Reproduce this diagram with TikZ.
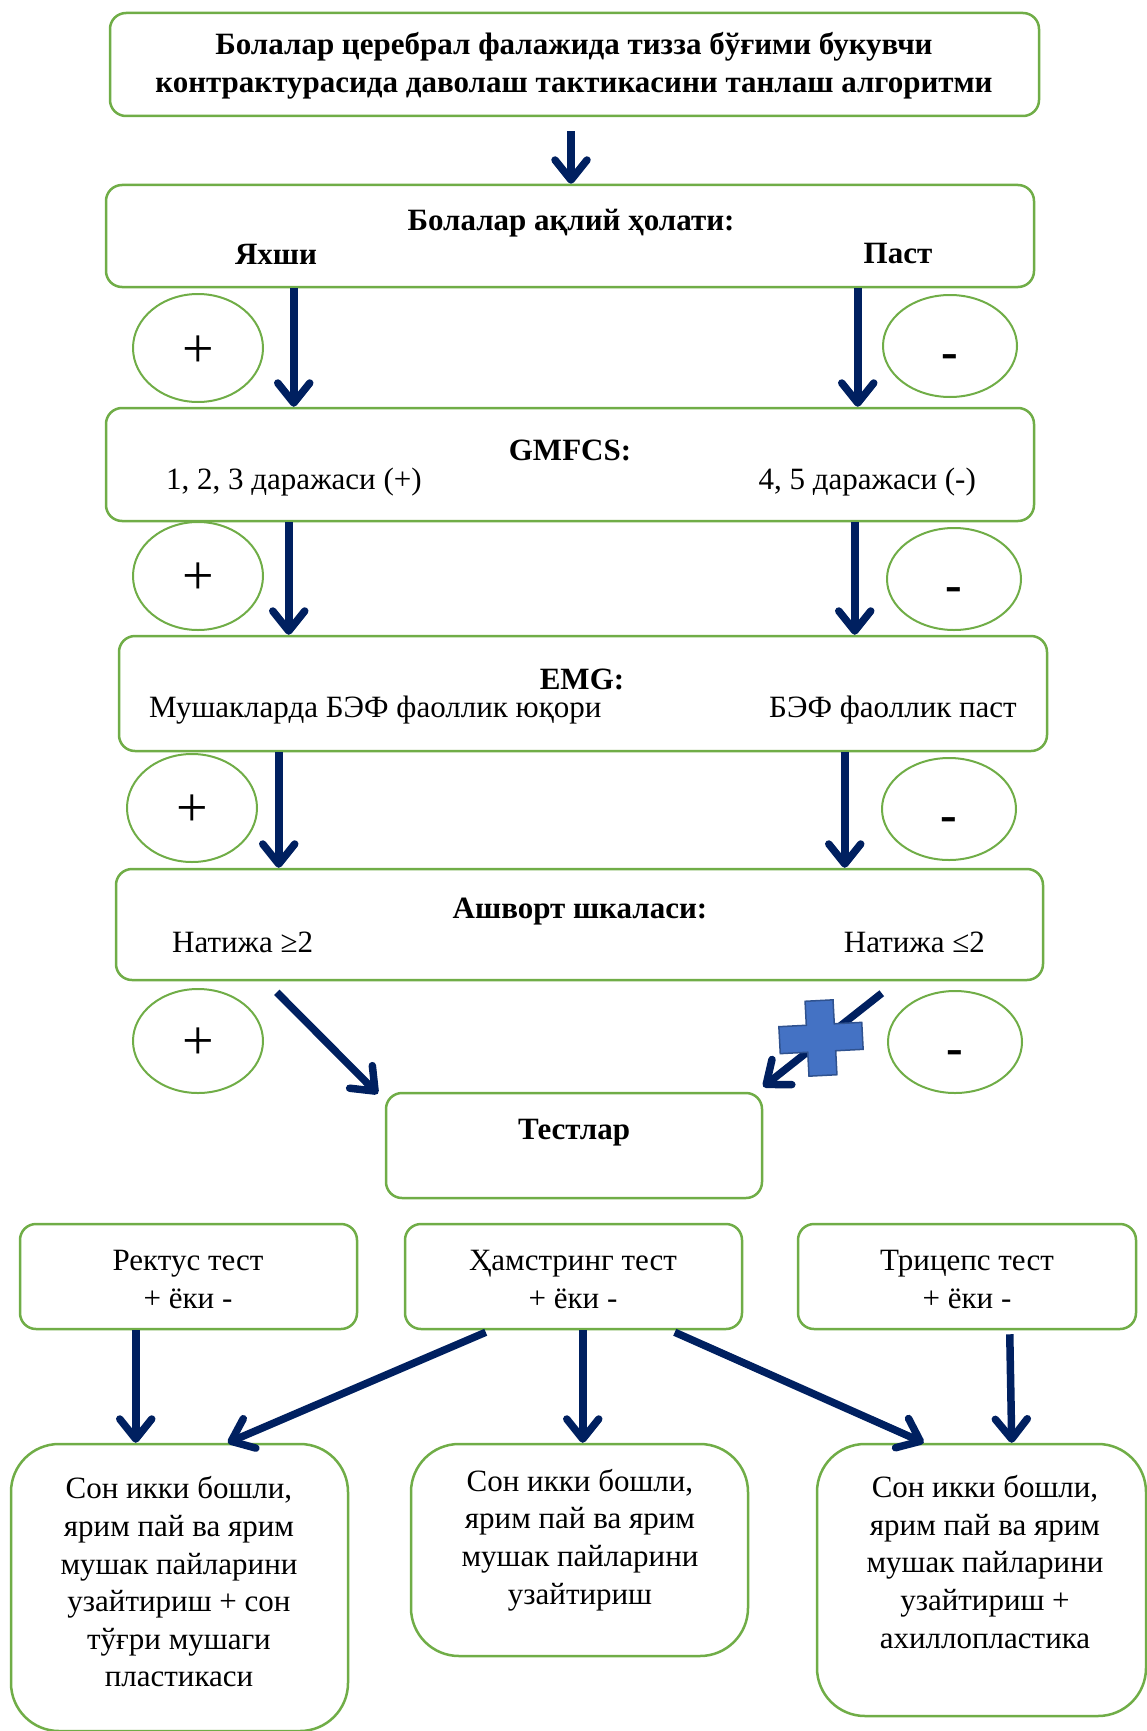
\documentclass[tikz,border=0pt]{standalone}
\usepackage{fontspec}
\setmainfont{Liberation Serif}
\usetikzlibrary{arrows.meta,shapes.geometric}
\definecolor{grn}{HTML}{70AD47}
\definecolor{navy}{HTML}{002060}
\definecolor{crossblue}{HTML}{4472C4}
\definecolor{crossedge}{HTML}{2F528F}
\begin{document}
\begin{tikzpicture}[x=1pt,y=-1pt,
 box/.style={draw=grn,line width=2.5pt,rounded corners=16pt,fill=white,inner sep=0pt},
 bigbox/.style={box,rounded corners=48pt},
 oval/.style={draw=grn,line width=2pt,ellipse,inner sep=0pt,minimum width=130pt,minimum height=106pt},
 arr/.style={draw=navy,line width=7.5pt,-{Straight Barb[length=20pt,width=32pt,round]}},
 bt/.style={inner sep=0pt,font=\fontsize{31}{38}\selectfont\bfseries},
 nt/.style={inner sep=0pt,font=\fontsize{31}{37.6}\selectfont},
 pl/.style={inner sep=0pt,font=\fontsize{56}{56}\selectfont},
 mn/.style={inner sep=0pt,anchor=north,font=\fontsize{50}{50}\selectfont\bfseries},
 ]
\useasboundingbox (0,0) rectangle (1147,1731);

% main boxes
\node[box,minimum width=929pt,minimum height=103pt] (b1) at (574.5,64.5) {};
\node[box,minimum width=928pt,minimum height=102pt] (b2) at (570,236) {};
\node[box,minimum width=928pt,minimum height=113pt] (b3) at (570,464.5) {};
\node[box,minimum width=928pt,minimum height=115pt] (b4) at (583,693.5) {};
\node[box,minimum width=927pt,minimum height=111pt] (b5) at (579.5,924.5) {};
\node[box,minimum width=376pt,minimum height=105pt] (b6) at (574,1145.5) {};
\node[box,minimum width=337pt,minimum height=105pt] (r1) at (188.5,1276.5) {};
\node[box,minimum width=337pt,minimum height=105pt] (r2) at (573.5,1276.5) {};
\node[box,minimum width=338pt,minimum height=105pt] (r3) at (967,1276.5) {};
\node[bigbox,minimum width=337pt,minimum height=287pt] (c1) at (179.5,1587.5) {};
\node[bigbox,minimum width=337pt,minimum height=212pt] (c2) at (579.5,1550) {};
\node[bigbox,minimum width=329pt,minimum height=272pt] (c3) at (981.5,1580) {};

% texts
\node[bt,align=center] (t1) at (574,66) {Болалар церебрал фалажида тизза бўғими букувчи\\контрактурасида даволаш тактикасини танлаш алгоритми};
\node[bt] (t2) at (571,223) {Болалар ақлий ҳолати:};
\node[bt] (t2l) at (276,254) {Яхши};
\node[bt] (t2r) at (898,254) {Паст};
\node[bt] (t3) at (570,450) {GMFCS:};
\node[nt,anchor=west] (t3l) at (166,482) {1, 2, 3 даражаси (+)};
\node[nt,anchor=east] (t3r) at (976,482) {4, 5 даражаси (-)};
\node[bt] (t4) at (582,679) {EMG:};
\node[nt,anchor=west] (t4l) at (149,710) {Мушакларда БЭФ фаоллик юқори};
\node[nt,anchor=east] (t4r) at (1017,710) {БЭФ фаоллик паст};
\node[bt] (t5) at (580,912) {Ашворт шкаласи:};
\node[nt,anchor=west] (t5l) at (172,942) {Натижа ≥2};
\node[nt,anchor=east] (t5r) at (985,942) {Натижа ≤2};
\node[bt] (t6) at (574,1133) {Тестлар};
\node[nt,align=center] (tr1) at (188,1279.5) {Ректус тест\\+ ёки -};
\node[nt,align=center] (tr2) at (573,1279.5) {Ҳамстринг тест\\+ ёки -};
\node[nt,align=center] (tr3) at (967,1279.5) {Трицепс тест\\+ ёки -};
\node[nt,align=center] (tc1) at (179,1582) {Сон икки бошли,\\ярим пай ва ярим\\мушак пайларини\\узайтириш + сон\\тўғри мушаги\\пластикаси};
\node[nt,align=center] (tc2) at (580,1540) {Сон икки бошли,\\ярим пай ва ярим\\мушак пайларини\\узайтириш};
\node[nt,align=center] (tc3) at (985,1562) {Сон икки бошли,\\ярим пай ва ярим\\мушак пайларини\\узайтириш +\\ахиллопластика};

% ovals with signs
\node[oval,minimum height=108pt] (e2l) at (198,348) {};
\node[pl] (p2l) at ([yshift=-4pt]e2l.center) {+};
\node[oval,minimum width=134pt,minimum height=102pt] (e2r) at (950,346) {};
\node[mn] (m2r) at ([yshift=-8.5pt]e2r.center) {-};
\node[oval,minimum height=108pt] (e3l) at (198,576) {};
\node[pl] (p3l) at ([yshift=-3pt]e3l.center) {+};
\node[oval,minimum width=134pt,minimum height=102pt] (e3r) at (954,579) {};
\node[mn] (m3r) at ([yshift=-8.5pt]e3r.center) {-};
\node[oval,minimum height=108pt] (e4l) at (192,808) {};
\node[pl] (p4l) at ([yshift=-3pt]e4l.center) {+};
\node[oval,minimum width=134pt,minimum height=102pt] (e4r) at (949,809) {};
\node[mn] (m4r) at ([yshift=-8.5pt]e4r.center) {-};
\node[oval,minimum height=104pt] (e5l) at (198,1041) {};
\node[pl] (p5l) at ([yshift=-3pt]e5l.center) {+};
\node[oval,minimum width=134pt,minimum height=102pt] (e5r) at (955,1042) {};
\node[mn] (m5r) at ([yshift=-8.5pt]e5r.center) {-};

% arrows
\draw[arr] ([xshift=-3.5pt,yshift=-14pt]b1.south) -- ([xshift=1pt]b2.north);
\draw[arr] ([xshift=189pt]b2.south west) -- ([xshift=189pt]b3.north west);
\draw[arr] ([xshift=753pt]b2.south west) -- ([xshift=753pt]b3.north west);
\draw[arr] ([xshift=184pt]b3.south west) -- ([xshift=171pt]b4.north west);
\draw[arr] ([xshift=750pt]b3.south west) -- ([xshift=737pt]b4.north west);
\draw[arr] ([xshift=161pt]b4.south west) -- ([xshift=164pt]b5.north west);
\draw[arr] ([xshift=727pt]b4.south west) -- ([xshift=730pt]b5.north west);
\draw[arr] ([xshift=162pt,yshift=-11pt]b5.south west) -- ([xshift=-7pt,yshift=-2pt]b6.north west);
\draw[arr] ([xshift=767pt,yshift=-12pt]b5.south west) -- ([xshift=0pt,yshift=5pt]b6.north east);
\draw[arr] ([xshift=117pt]r1.south west) -- ([xshift=126pt]c1.north west);
\draw[arr] ([xshift=82pt,yshift=-2pt]r2.south west) -- ([xshift=218pt]c1.north west);
\draw[arr] ([xshift=179pt]r2.south west) -- ([xshift=173pt]c2.north west);
\draw[arr] ([xshift=271pt,yshift=-2pt]r2.south west) -- ([xshift=108pt]c3.north west);
\draw[arr] ([xshift=213pt,yshift=-4pt]r3.south west) -- ([xshift=196pt]c3.north west);

% blue cross
\draw[fill=crossblue,draw=crossedge,line width=1.5pt,shift={(821,1038)},rotate=3]
 (-14,-37.5) -- (14,-37.5) -- (14,-13.5) -- (41.5,-13.5) -- (41.5,13.5) -- (14,13.5) -- (14,37.5)
 -- (-14,37.5) -- (-14,13.5) -- (-41.5,13.5) -- (-41.5,-13.5) -- (-14,-13.5) -- cycle;
\end{tikzpicture}
\end{document}
